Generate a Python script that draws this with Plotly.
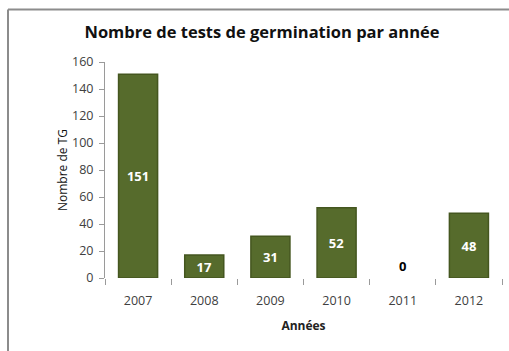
import plotly.graph_objects as go

# Germination tests per year
annees = ["2007", "2008", "2009", "2010", "2011", "2012"]
nb_tests = [151, 17, 31, 52, 0, 48]
y_ticks = [0, 20, 40, 60, 80, 100, 120, 140, 160]

W, H = 509, 351
ML, MR, MT, MB = 105, 7, 62, 73
FONT = "Open Sans, Lato, sans-serif"

text_pos = ["inside" if v > 0 else "outside" for v in nb_tests]
text_col = ["white" if v > 0 else "black" for v in nb_tests]
edge_w = [1.5 if v > 0 else 0 for v in nb_tests]

fig = go.Figure()
fig.add_trace(go.Bar(
    x=annees,
    y=nb_tests,
    text=[str(v) for v in nb_tests],
    textposition=text_pos,
    insidetextanchor="middle",
    textangle=0,
    constraintext="none",
    textfont=dict(family=FONT, size=13, color=text_col, weight="bold"),
    marker=dict(color="#566b2c", line=dict(color="#44561f", width=edge_w)),
    width=0.59,
    cliponaxis=False,
    hoverinfo="skip",
))

px = lambda x: (x - ML) / (W - ML - MR)
py = lambda y: 1 - (y - MT) / (H - MT - MB)

fig.update_layout(
    width=W, height=H,
    margin=dict(l=ML, r=MR, t=MT, b=MB),
    paper_bgcolor="white",
    plot_bgcolor="white",
    showlegend=False,
    title=dict(
        text="<b>Nombre de tests de germination par année</b>",
        x=px(262), xanchor="center", xref="paper",
        y=1 - 32 / H, yanchor="middle",
        font=dict(family=FONT, size=16.5, color="#111111"),
    ),
    font=dict(family=FONT, color="#404040"),
    shapes=[
        # Frame around the chart (top and left edges)
        dict(type="line", xref="paper", yref="paper",
             x0=px(8), x1=px(W + 5), y0=py(9.5), y1=py(9.5),
             line=dict(color="#8c8c8c", width=2)),
        dict(type="line", xref="paper", yref="paper",
             x0=px(8), x1=px(8), y0=py(9.5), y1=py(H + 5),
             line=dict(color="#8c8c8c", width=2)),
    ],
)

fig.update_xaxes(
    type="category",
    showline=False,
    showgrid=False,
    ticks="outside",
    tickson="boundaries",
    ticklen=6,
    tickcolor="#9a9a9a",
    ticklabelstandoff=13,
    tickfont=dict(family=FONT, size=12.5, color="#404040"),
    title=dict(text="<b>Années</b>", font=dict(family=FONT, size=12, color="#222222"), standoff=14),
)
fig.update_yaxes(
    range=[0, 160],
    tickvals=y_ticks,
    showline=True,
    linecolor="#9a9a9a",
    linewidth=1,
    showgrid=False,
    zeroline=False,
    ticks="outside",
    ticklen=5,
    tickcolor="#9a9a9a",
    ticklabelstandoff=3,
    tickfont=dict(family=FONT, size=12.5, color="#404040"),
    title=dict(text="Nombre de TG", font=dict(family=FONT, size=12, color="#111111"), standoff=1),
)

fig.write_html("out.html")
